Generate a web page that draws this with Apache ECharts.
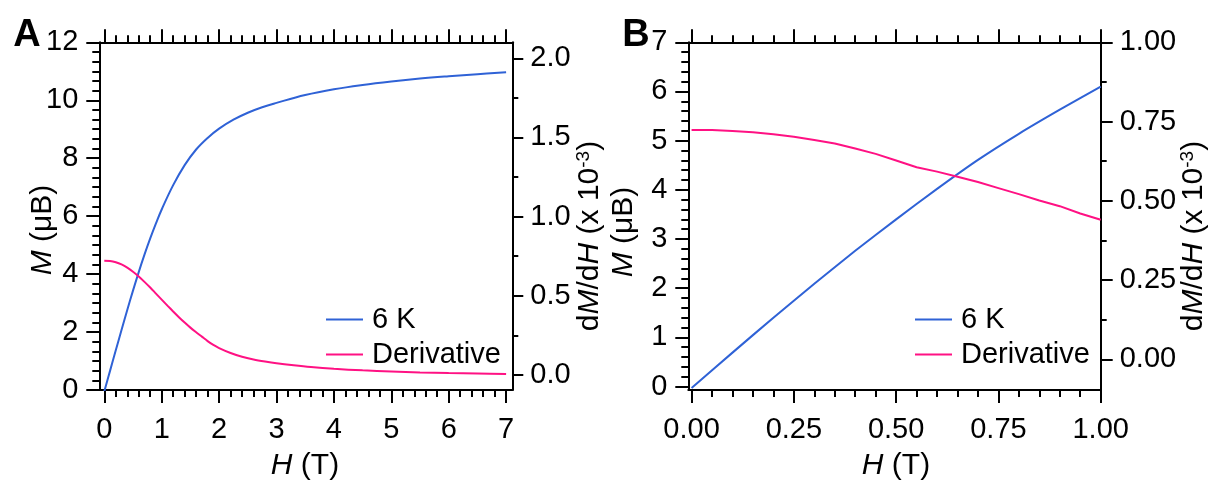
<!DOCTYPE html>
<html>
<head>
<meta charset="utf-8">
<script src="https://cdn.jsdelivr.net/npm/echarts@6/dist/echarts.min.js"></script>
<style>
  html, body { margin: 0; padding: 0; background: #fff; }
  #chart { width: 1215px; height: 488px; }
</style>
</head>
<body>
<div id="chart"></div>
<script>
const FONT = '"Liberation Sans", Arial, sans-serif'
const BLUE = '#2f62d6'
const PINK = '#ff1183'

// panel A: full field sweep, 6 K
const fieldA = [0, 0.1, 0.2, 0.3, 0.4, 0.5, 0.6, 0.7, 0.8, 0.9, 1.0, 1.2, 1.4, 1.6, 1.8, 2.0, 2.25, 2.5, 2.75, 3.0, 3.5, 4.0, 4.5, 5.0, 5.5, 6.0, 6.5, 7.0]
const momentA = [-0.05, 0.66, 1.37, 2.07, 2.76, 3.43, 4.07, 4.67, 5.23, 5.75, 6.23, 7.07, 7.76, 8.3, 8.7, 9.02, 9.33, 9.57, 9.76, 9.91, 10.18, 10.38, 10.53, 10.65, 10.75, 10.83, 10.9, 10.97]
const fieldDerivA = [0, 0.1, 0.2, 0.3, 0.4, 0.5, 0.6, 0.7, 0.8, 0.9, 1.0, 1.1, 1.2, 1.3, 1.4, 1.5, 1.6, 1.7, 1.8, 1.9, 2.0, 2.2, 2.4, 2.6, 2.8, 3.0, 3.3, 3.6, 4.0, 4.5, 5.0, 5.5, 6.0, 6.5, 7.0]
const derivA = [0.722, 0.72, 0.712, 0.698, 0.678, 0.652, 0.622, 0.588, 0.552, 0.514, 0.476, 0.438, 0.401, 0.365, 0.331, 0.299, 0.27, 0.242, 0.214, 0.19, 0.17, 0.139, 0.115, 0.098, 0.085, 0.074, 0.061, 0.05, 0.039, 0.029, 0.022, 0.016, 0.012, 0.009, 0.006]

// panel B: low field zoom
const fieldB = [0, 0.1, 0.2, 0.3, 0.4, 0.5, 0.6, 0.7, 0.8, 0.9, 1.0]
const momentB = [-0.03, 0.69, 1.4, 2.09, 2.76, 3.4, 4.02, 4.61, 5.14, 5.63, 6.1]
const fieldDerivB = [0, 0.05, 0.1, 0.15, 0.2, 0.25, 0.3, 0.35, 0.4, 0.45, 0.5, 0.55, 0.6, 0.65, 0.7, 0.75, 0.8, 0.85, 0.9, 0.95, 1.0]
const derivB = [0.723, 0.723, 0.72, 0.716, 0.71, 0.702, 0.692, 0.681, 0.665, 0.648, 0.627, 0.606, 0.592, 0.576, 0.559, 0.54, 0.521, 0.501, 0.483, 0.46, 0.44]

// tick labels
const xTicksA = [0, 1, 2, 3, 4, 5, 6, 7]
const yLeftTicksA = [0, 2, 4, 6, 8, 10, 12]
const yRightTicksA = [0, 0.5, 1, 1.5, 2]
const xTicksB = [0, 0.25, 0.5, 0.75, 1]
const yLeftTicksB = [0, 1, 2, 3, 4, 5, 6, 7]
const yRightTicksB = [0, 0.25, 0.5, 0.75, 1]

const legendNames = ['6 K', 'Derivative']

function minors(majors, parts) {
  const out = []
  for (let i = 0; i < majors.length - 1; i++) {
    const step = (majors[i + 1] - majors[i]) / parts
    for (let k = 1; k < parts; k++) out.push(+(majors[i] + k * step).toFixed(6))
  }
  return out
}

const pairs = (xs, ys) => xs.map((x, i) => [x, ys[i]])

const black = { color: '#000', width: 2 }
const labelStyle = { fontSize: 29, fontFamily: FONT, color: '#000' }

// one axis with major ticks (+ line, labels) and one overlapping axis carrying the minor ticks
function axisPair({ grid, pos, min, max, ticks, parts, labels, digits, margin, len = 13, minorLen = 7 }) {
  const major = {
    type: 'value', gridIndex: grid, position: pos, min, max, offset: 0,
    axisLine: { show: true, onZero: false, lineStyle: black },
    axisTick: { show: true, inside: false, customValues: ticks, length: len, lineStyle: black },
    axisLabel: labels
      ? { show: true, customValues: ticks, margin, formatter: (v) => v.toFixed(digits), ...labelStyle }
      : { show: false },
    splitLine: { show: false },
  }
  const minor = {
    type: 'value', gridIndex: grid, position: pos, min, max, offset: 0,
    axisLine: { show: false, onZero: false },
    axisTick: { show: true, inside: false, customValues: minors(ticks, parts), length: minorLen, lineStyle: black },
    axisLabel: { show: false },
    splitLine: { show: false },
  }
  return [major, minor]
}

const xAxis = [
  ...axisPair({ grid: 0, pos: 'bottom', min: -0.087, max: 7.108, ticks: xTicksA, parts: 5, labels: true, digits: 0, margin: 25 }),
  ...axisPair({ grid: 0, pos: 'top', min: -0.087, max: 7.108, ticks: xTicksA, parts: 5, labels: false }),
  ...axisPair({ grid: 1, pos: 'bottom', min: -0.008, max: 1.0, ticks: xTicksB, parts: 5, labels: true, digits: 2, margin: 25 }),
  ...axisPair({ grid: 1, pos: 'top', min: -0.008, max: 1.0, ticks: xTicksB, parts: 5, labels: false }),
]

const yAxis = [
  ...axisPair({ grid: 0, pos: 'left', min: 0, max: 12, ticks: yLeftTicksA, parts: 6, labels: true, digits: 0, margin: 21 }),
  ...axisPair({ grid: 0, pos: 'right', min: -0.095, max: 2.101, ticks: yRightTicksA, parts: 2, labels: true, digits: 1, margin: 18, len: 11, minorLen: 6 }),
  ...axisPair({ grid: 1, pos: 'left', min: -0.07, max: 7, ticks: yLeftTicksB, parts: 5, labels: true, digits: 0, margin: 21 }),
  ...axisPair({ grid: 1, pos: 'right', min: -0.097, max: 1.0, ticks: yRightTicksB, parts: 2, labels: true, digits: 2, margin: 19, len: 12, minorLen: 6 }),
]

const lineSeries = (name, data, color, xi, yi, smooth) => ({
  name, type: 'line', data, xAxisIndex: xi, yAxisIndex: yi,
  showSymbol: false, smooth, lineStyle: { color, width: 2 }, itemStyle: { color },
  animation: false,
})

const series = [
  lineSeries('6 K', pairs(fieldA, momentA), BLUE, 0, 0, 0.4),
  lineSeries('Derivative', pairs(fieldDerivA, derivA), PINK, 0, 2, 0.3),
  lineSeries('6 K', pairs(fieldB, momentB), BLUE, 4, 4, 0.2),
  lineSeries('Derivative', pairs(fieldDerivB, derivB), PINK, 4, 6, false),
]

const legendBase = {
  orient: 'vertical', icon: 'rect', itemWidth: 37, itemHeight: 2, itemGap: 6, padding: 0,
  selectedMode: false, data: legendNames,
  textStyle: { ...labelStyle, padding: [0, 0, 0, 4] },
}

const rich = {
  n: { fontSize: 30, fontFamily: FONT, color: '#000', lineHeight: 32 },
  i: { fontSize: 30, fontFamily: FONT, color: '#000', fontStyle: 'italic', lineHeight: 32 },
  s: { fontSize: 19, fontFamily: FONT, color: '#000', verticalAlign: 'top', lineHeight: 19 },
}

function title(text, x, y, rotated) {
  return {
    type: 'text', x, y, rotation: rotated ? Math.PI / 2 : 0,
    style: { text, rich, align: 'center', verticalAlign: 'middle', textAlign: 'center', textVerticalAlign: 'middle' },
  }
}

function panelLetter(text, x, y) {
  return {
    type: 'text', x, y,
    style: {
      text, fill: '#000', font: 'bold 38px ' + FONT,
      align: 'center', verticalAlign: 'middle', textAlign: 'center', textVerticalAlign: 'middle',
    },
  }
}

const yRightTitle = '{n|d}{i|M}{n|/d}{i|H}{n| (x 10}{s|-3}{n|)}'

const option = {
  animation: false,
  backgroundColor: '#fff',
  grid: [
    { left: 99.3, top: 42.3, width: 413, height: 347.7, containLabel: false, outerBoundsMode: 'none' },
    { left: 688.3, top: 42.3, width: 412.4, height: 347.7, containLabel: false, outerBoundsMode: 'none' },
  ],
  xAxis,
  yAxis,
  series,
  legend: [
    { ...legendBase, left: 326, top: 305 },
    { ...legendBase, left: 915, top: 305 },
  ],
  graphic: [
    panelLetter('A', 27, 36),
    panelLetter('B', 636, 36),
    title('{i|H}{n| (T)}', 305, 466, false),
    title('{i|H}{n| (T)}', 896, 466, false),
    title('{i|M}{n| (μB)}', 43, 230, true),
    title('{i|M}{n| (μB)}', 624, 232, true),
    title(yRightTitle, 590, 236, true),
    title(yRightTitle, 1194, 236, true),
  ],
}

const chart = echarts.init(document.getElementById('chart'))
chart.setOption(option)
window.addEventListener('resize', () => chart.resize())
</script>
</body>
</html>
